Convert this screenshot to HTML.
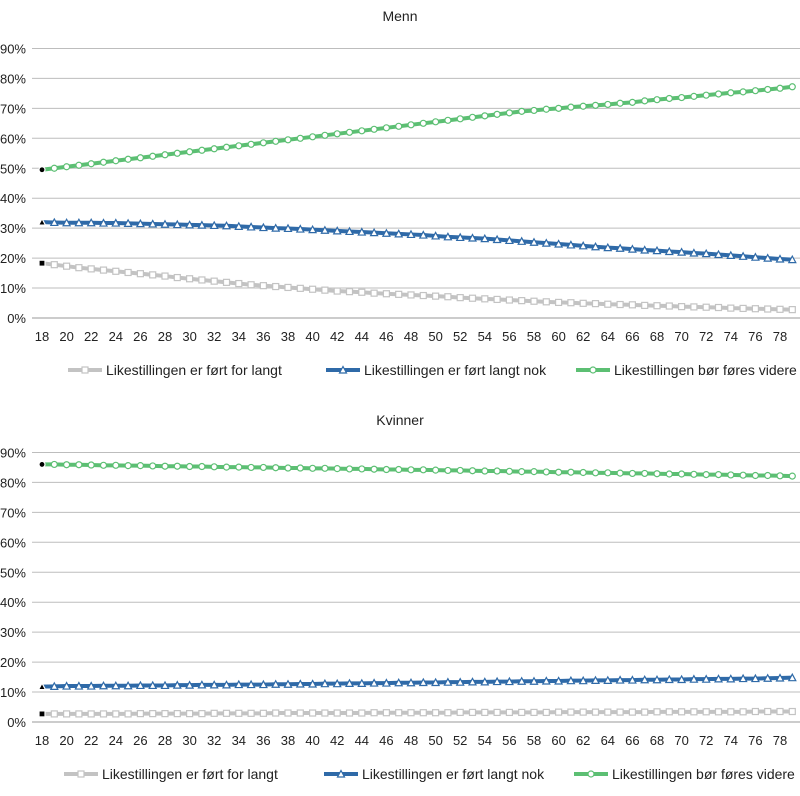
<!DOCTYPE html>
<html><head><meta charset="utf-8"><style>
body{margin:0;background:#fff;}
svg text{font-family:"Liberation Sans",sans-serif;fill:#222;}
</style></head><body>
<svg id="c" width="800" height="791" xmlns="http://www.w3.org/2000/svg"></svg>
<script>
const ages=[];for(let a=18;a<=79;a++)ages.push(a);
const yTicks=[0,10,20,30,40,50,60,70,80,90];
const xLabels=[18,20,22,24,26,28,30,32,34,36,38,40,42,44,46,48,50,52,54,56,58,60,62,64,66,68,70,72,74,76,78];
const seriesNames=["Likestillingen er ført for langt","Likestillingen er ført langt nok","Likestillingen bør føres videre"];
const menGray=[18.3,17.8,17.3,16.8,16.4,16,15.6,15.2,14.8,14.4,14,13.5,13.1,12.7,12.3,11.9,11.5,11.1,10.8,10.5,10.2,9.9,9.6,9.3,9,8.8,8.6,8.3,8.1,7.9,7.7,7.5,7.3,7.1,6.8,6.6,6.4,6.2,6,5.8,5.6,5.4,5.2,5.1,4.9,4.8,4.6,4.5,4.4,4.2,4.1,4,3.8,3.7,3.6,3.5,3.3,3.2,3.1,3,2.9,2.8];
const menBlue=[32,31.9,31.8,31.8,31.8,31.7,31.7,31.6,31.5,31.4,31.3,31.2,31.1,31,30.9,30.8,30.6,30.4,30.2,30,29.9,29.7,29.5,29.3,29.1,28.9,28.7,28.5,28.3,28.1,27.9,27.7,27.4,27.1,26.9,26.7,26.5,26.2,25.9,25.6,25.3,25,24.7,24.4,24.1,23.8,23.5,23.3,23,22.7,22.5,22.2,22,21.7,21.5,21.2,20.9,20.6,20.3,20,19.7,19.5];
const menGreen=[49.5,50,50.5,51,51.5,52,52.5,53,53.5,54,54.5,55,55.5,56,56.5,57,57.5,58,58.5,59,59.5,60,60.5,61,61.5,62,62.5,63,63.5,64,64.5,65,65.5,66,66.5,67,67.5,68,68.5,69,69.3,69.7,70,70.4,70.7,71,71.3,71.7,72,72.5,72.9,73.3,73.6,74,74.4,74.8,75.2,75.5,75.9,76.3,76.7,77.2];
const womGray=[2.7,2.7,2.7,2.7,2.7,2.7,2.7,2.7,2.8,2.8,2.8,2.8,2.8,2.8,2.9,2.9,2.9,2.9,2.9,3,3,3,3,3,3,3,3,3.1,3.1,3.1,3.1,3.1,3.1,3.1,3.2,3.2,3.2,3.2,3.2,3.2,3.2,3.2,3.3,3.3,3.3,3.3,3.3,3.3,3.3,3.3,3.4,3.4,3.4,3.4,3.4,3.4,3.4,3.4,3.5,3.5,3.5,3.5];
const womBlue=[11.8,11.9,12,12,12,12.1,12.1,12.1,12.2,12.2,12.2,12.3,12.3,12.4,12.4,12.4,12.5,12.5,12.5,12.6,12.6,12.7,12.7,12.8,12.8,12.9,12.9,13,13,13.1,13.1,13.2,13.2,13.3,13.3,13.4,13.4,13.5,13.5,13.6,13.6,13.7,13.7,13.8,13.8,13.9,13.9,14,14,14.1,14.1,14.2,14.2,14.3,14.3,14.4,14.4,14.5,14.5,14.6,14.7,14.8];
const womGreen=[86,86,85.9,85.9,85.8,85.7,85.7,85.6,85.6,85.5,85.4,85.4,85.3,85.3,85.2,85.1,85.1,85,85,84.9,84.8,84.8,84.7,84.7,84.6,84.5,84.5,84.4,84.3,84.3,84.2,84.2,84.1,84,84,83.9,83.8,83.8,83.7,83.6,83.6,83.5,83.4,83.4,83.3,83.2,83.2,83.1,83,83,82.9,82.8,82.8,82.7,82.6,82.6,82.5,82.4,82.3,82.3,82.2,82.1];
const colors=["#c3c3c3","#2f6aa8","#5cbf73"];
const svg=document.getElementById('c');
const NS="http://www.w3.org/2000/svg";
function mk(tag,attrs,parent){const e=document.createElementNS(NS,tag);for(const k in attrs)e.setAttribute(k,attrs[k]);parent.appendChild(e);return e;}
function xS(a){return 42+(a-18)*12.3;}
function drawChart(title,y0,series,legendX,legendY,prefix){
  const g=mk('g',{},svg);
  
  
  const yS=v=>y0-v*2.995;
  const t=mk('text',{x:400,y:y0-297,'text-anchor':'middle','font-size':14},g);t.textContent=title;
  
  
  yTicks.forEach(v=>{
    const l=mk('line',{x1:32,x2:800,y1:yS(v),y2:yS(v),stroke:v===0?'#999':'#bdbdbd','stroke-width':1},g);
    
    
    const tx=mk('text',{x:26,y:yS(v)+5,'text-anchor':'end','font-size':13},g);tx.textContent=v+'%';
    
    
  });
  xLabels.forEach(a=>{
    const tx=mk('text',{x:xS(a),y:y0+23,'text-anchor':'middle','font-size':13},g);tx.textContent=a;
    
    
  });
  series.forEach((vals,si)=>{
    const p=mk('polyline',{points:vals.map((v,i)=>xS(ages[i])+','+yS(v)).join(' '),fill:'none',stroke:colors[si],'stroke-width':4,'stroke-linejoin':'round'},g);
    
    
    vals.forEach((v,i)=>{
      const x=xS(ages[i]),y=yS(v);const first=i===0;
      const fill=first?'#000':'#fff',st=first?'#fff':colors[si];
      let m;
      if(si===0)m=mk('rect',{x:x-3,y:y-3,width:6,height:6,fill:fill,stroke:st,'stroke-width':1.2},g);
      else if(si===1)m=mk('polygon',{points:`${x},${y-3.5} ${x+3.5},${y+3} ${x-3.5},${y+3}`,fill:fill,stroke:st,'stroke-width':1.2},g);
      else m=mk('circle',{cx:x,cy:y,r:3,fill:fill,stroke:st,'stroke-width':1.2},g);
      
      
    });
  });
  seriesNames.forEach((n,si)=>{
    const lx=legendX[si];
    const lg=mk('g',{},g);
    
    
    mk('line',{x1:lx,x2:lx+34,y1:legendY,y2:legendY,stroke:colors[si],'stroke-width':4},lg);
    const cx=lx+17;
    if(si===0)mk('rect',{x:cx-3,y:legendY-3,width:6,height:6,fill:'#fff',stroke:colors[si],'stroke-width':1.2},lg);
    else if(si===1)mk('polygon',{points:`${cx},${legendY-3.5} ${cx+3.5},${legendY+3} ${cx-3.5},${legendY+3}`,fill:'#fff',stroke:colors[si],'stroke-width':1.2},lg);
    else mk('circle',{cx:cx,cy:legendY,r:3,fill:'#fff',stroke:colors[si],'stroke-width':1.2},lg);
    const tx=mk('text',{x:lx+38,y:legendY+5,'font-size':14},lg);tx.textContent=n;
  });
}
drawChart("Menn",318,[menGray,menBlue,menGreen],[68,326,576],370,'menn');
drawChart("Kvinner",722,[womGray,womBlue,womGreen],[64,324,574],774,'kvinner');
</script>
</body></html>
